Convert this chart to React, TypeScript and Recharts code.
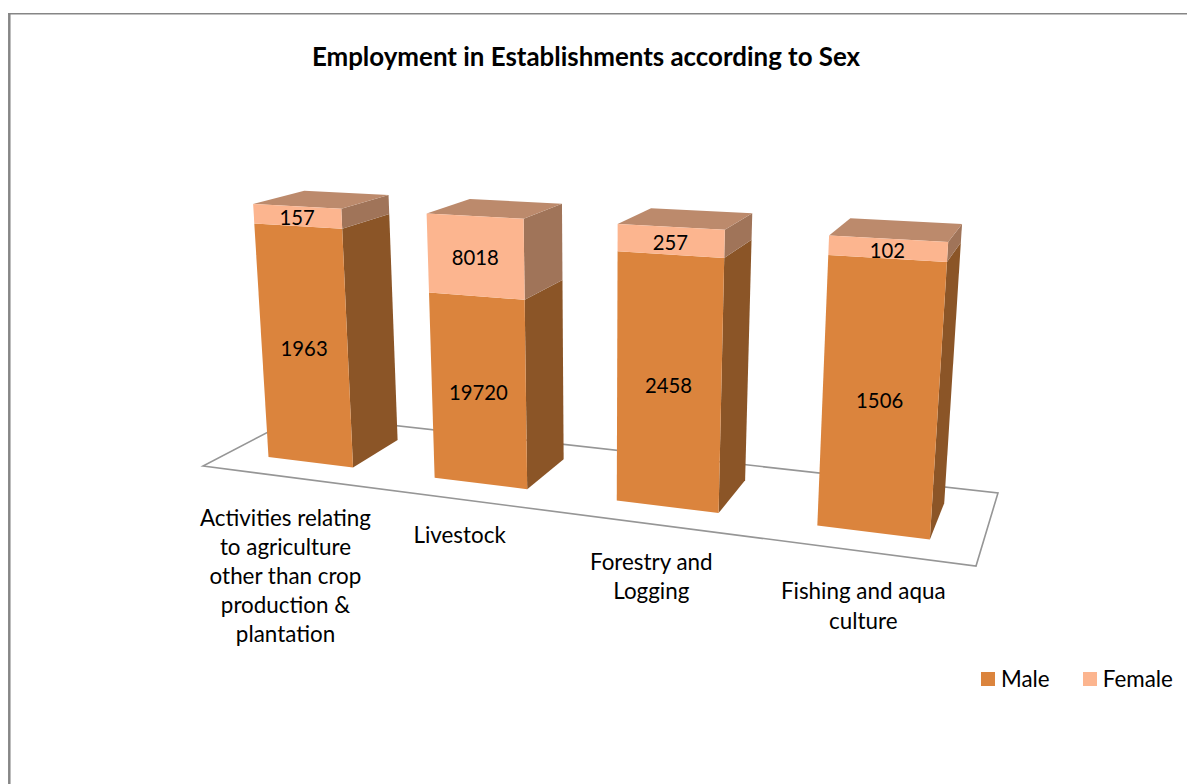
import { BarChart, Bar, XAxis, YAxis, Legend, LabelList } from 'recharts'

const CATEGORIES = [
  'Activities relating to agriculture other than crop production & plantation',
  'Livestock',
  'Forestry and Logging',
  'Fishing and aqua culture',
]
const MALE = [1963, 19720, 2458, 1506]
const FEMALE = [157, 8018, 257, 102]
const TICK_LINES = [
  ['Activities relating', 'to agriculture', 'other than crop', 'production &', 'plantation'],
  ['Livestock'],
  ['Forestry and', 'Logging'],
  ['Fishing and aqua', 'culture'],
]
const TICK_DY = [3, -2, 0, 2]

const data = CATEGORIES.map((name, i) => ({ name, male: MALE[i], female: FEMALE[i] }))

const W = 1187
const H = 784
const FONT = 'Lato, Carlito, sans-serif'
const AXIS_H = 30

// logical plot rect, everything in it goes through project()
const PLOT = { left: 200, top: 100, width: 800, height: 400 }
const DEPTH_FRONT = 0.25
const DEPTH_BACK = 0.76

// perspective camera fitted to the floor and the bar edges
function project(u: number, v: number, w: number) {
  const d = 1 - 0.1788 * u + 0.1147 * w - 0.0452 * v
  return {
    x: (598.5 * u + 132.5 * w + 203 - 27.1 * v) / d,
    y: (-1.2 * u - 3.4 * w + 466 - 266.7 * v) / d,
  }
}

const toU = (px: number) => (px - PLOT.left) / PLOT.width + 0.002
const toV = (py: number) => (PLOT.top + PLOT.height - py) / PLOT.height

function poly(pts: [number, number, number][]) {
  return pts.map(([u, v, w]) => { const p = project(u, v, w); return `${p.x},${p.y}` }).join(' ')
}

function Prism({ x, y, width, height, front, side, top }: any) {
  const u0 = toU(x)
  const u1 = toU(x + width)
  const v1 = toV(y)
  const v0 = toV(y + height)
  const a = DEPTH_FRONT
  const b = DEPTH_BACK
  return (
    <g>
      <polygon points={poly([[u1, v0, a], [u1, v1, a], [u1, v1, b], [u1, v0, b]])} fill={side} />
      {top && <polygon points={poly([[u0, v1, a], [u1, v1, a], [u1, v1, b], [u0, v1, b]])} fill={top} />}
      <polygon points={poly([[u0, v0, a], [u1, v0, a], [u1, v1, a], [u0, v1, a]])} fill={front} />
    </g>
  )
}

function FaceLabel(props: any) {
  const box = props.viewBox ?? props
  const p = project(toU(box.x + box.width / 2), toV(box.y + box.height / 2), DEPTH_FRONT)
  return (
    <text x={p.x} y={p.y + 1} textAnchor="middle" dominantBaseline="central" fontFamily={FONT} fontSize={20.3} fill="#000">
      {props.value}
    </text>
  )
}

function FloorTick({ payload, index }: any) {
  const p = project(toU(payload.coordinate), 0, 0)
  const lines = TICK_LINES[index] ?? [payload.value]
  return (
    <text textAnchor="middle" fontFamily={FONT} fontSize={22.4} fill="#000">
      {lines.map((l, i) => (
        <tspan key={i} x={p.x} y={p.y + 46 + TICK_DY[index] + i * 29.2}>{l}</tspan>
      ))}
    </text>
  )
}

function LegendRow({ payload }: any) {
  return (
    <div style={{ display: 'flex', fontFamily: FONT, fontSize: 22.4, color: '#000', lineHeight: '14px' }}>
      {(payload ?? []).map((e: any, i: number) => (
        <div key={i} style={{ display: 'flex', alignItems: 'center', marginRight: i === 0 ? 33 : 0 }}>
          <span style={{ width: 14, height: 14, background: e.color, marginRight: 6, display: 'inline-block' }} />
          {e.value}
        </div>
      ))}
    </div>
  )
}

export default function App() {
  const floor = [[0, 0, 0], [1, 0, 0], [1, 0, 1], [0, 0, 1]] as [number, number, number][]
  return (
    <div style={{ position: 'absolute', left: 0, top: 0, width: W, height: H, background: '#fff' }}>
      <BarChart
        width={W}
        height={H}
        data={data}
        stackOffset="expand"
        barSize={104}
        margin={{ top: PLOT.top, left: PLOT.left, right: W - PLOT.left - PLOT.width, bottom: H - PLOT.top - PLOT.height - AXIS_H }}
      >
        <line x1={9.3} y1={13} x2={9.3} y2={H} stroke="#868686" strokeWidth={2.5} />
        <line x1={8} y1={13.7} x2={W} y2={13.7} stroke="#868686" strokeWidth={1.5} />
        <text x={586} y={56} textAnchor="middle" dominantBaseline="central" fontFamily={FONT} fontWeight={700} fontSize={25.9} fill="#000">
          Employment in Establishments according to Sex
        </text>
        <polygon points={poly(floor)} fill="none" stroke="#969696" strokeWidth={1.6} />
        <XAxis dataKey="name" height={AXIS_H} axisLine={false} tickLine={false} interval={0} tick={<FloorTick />} />
        <YAxis hide domain={[0, 1]} />
        <Legend
          content={<LegendRow />}
          layout="horizontal"
          align="center"
          verticalAlign="middle"
          itemSorter={null}
          wrapperStyle={{ position: 'absolute', left: 981, top: 672, width: 200, height: 14 }}
        />
        <Bar
          dataKey="male"
          name="Male"
          stackId="a"
          fill="#DB843D"
          isAnimationActive={false}
          shape={(p: any) => <Prism {...p} front="#DB843D" side="#8B5527" />}
        >
          <LabelList dataKey="male" content={<FaceLabel />} />
        </Bar>
        <Bar
          dataKey="female"
          name="Female"
          stackId="a"
          fill="#FCB58F"
          isAnimationActive={false}
          shape={(p: any) => <Prism {...p} front="#FCB58F" side="#A07459" top="#BC8A6C" />}
        >
          <LabelList dataKey="female" content={<FaceLabel />} />
        </Bar>
      </BarChart>
    </div>
  )
}
